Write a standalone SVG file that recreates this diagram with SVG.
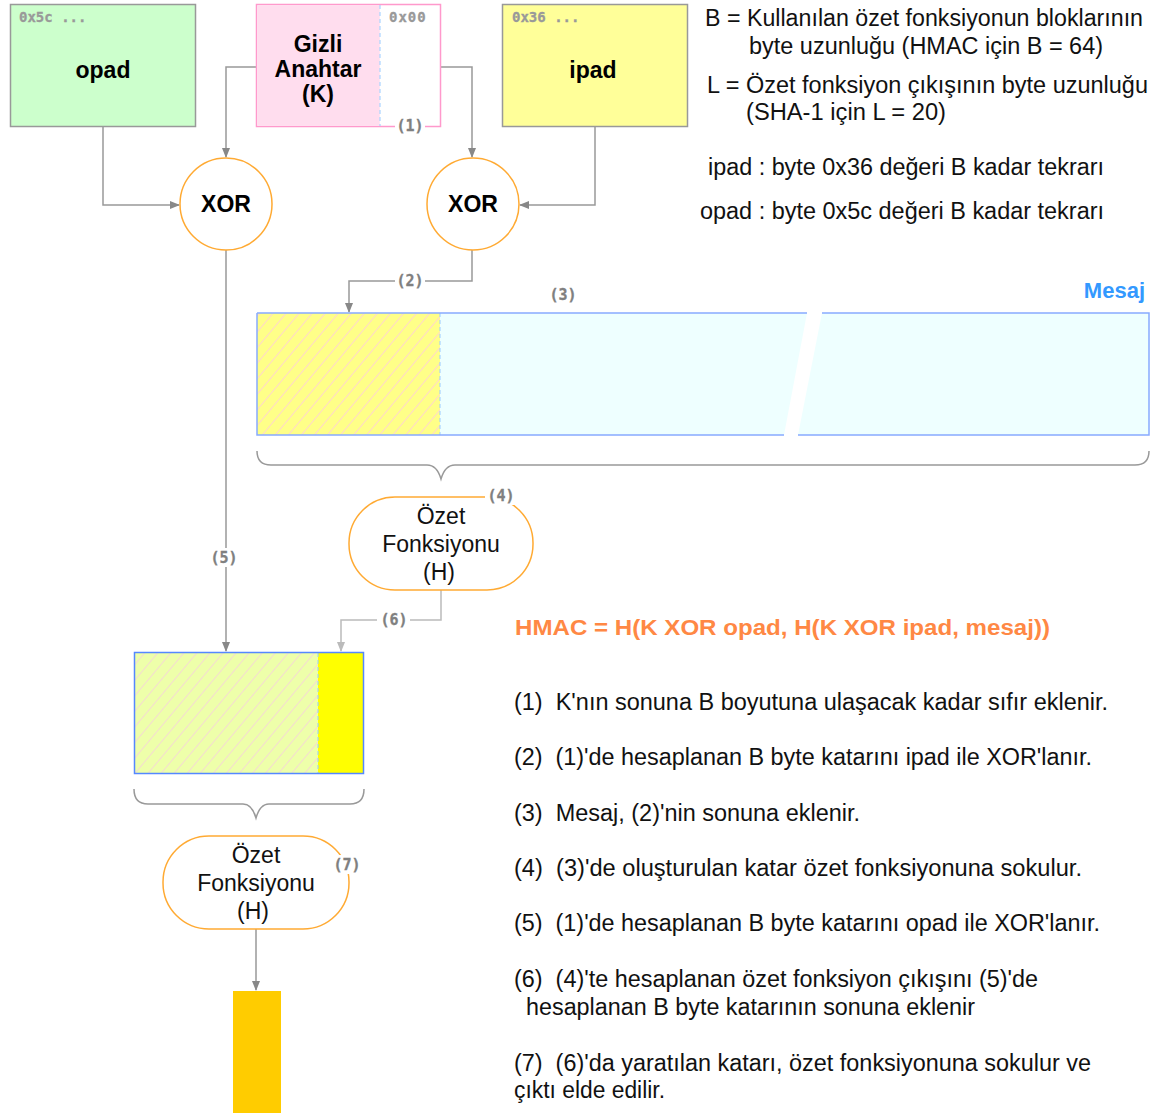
<svg xmlns="http://www.w3.org/2000/svg" width="1160" height="1118" viewBox="0 0 1160 1118">
<style>
.bold{font-family:"Liberation Sans",Arial,sans-serif;font-weight:bold;font-size:23px;fill:#000;text-anchor:middle}
.norm{font-family:"Liberation Sans",Arial,sans-serif;font-size:23px;fill:#111;text-anchor:middle}
.txt{font-family:"Liberation Sans",Arial,sans-serif;font-size:23px;fill:#111;white-space:pre}
.lbl{font-family:"DejaVu Sans Mono","Liberation Mono",monospace;font-weight:bold;font-size:15px;fill:#808080;text-anchor:middle;stroke:#808080;stroke-width:0.3}
.hex{font-family:"DejaVu Sans Mono","Liberation Mono",monospace;font-weight:bold;font-size:14px;fill:#999;stroke:#999;stroke-width:0.3}
.conn{fill:none;stroke:#999;stroke-width:1.5}
.conn2{fill:none;stroke:#bbb;stroke-width:1.5}
.orange{fill:#fff;stroke:#ffaa33;stroke-width:1.5}
.brace{fill:none;stroke:#999;stroke-width:1.5}
</style>
<defs>
<marker id="arr" markerWidth="10" markerHeight="10" refX="9" refY="5" orient="auto" markerUnits="userSpaceOnUse">
<path d="M0,1 L10,5 L0,9 Z" fill="#888"/>
</marker>
<marker id="arr2" markerWidth="10" markerHeight="10" refX="9" refY="5" orient="auto" markerUnits="userSpaceOnUse">
<path d="M0,1 L10,5 L0,9 Z" fill="#bbb"/>
</marker>
<pattern id="hatch1" width="10" height="10" patternUnits="userSpaceOnUse" patternTransform="rotate(40)">
<rect width="10" height="10" fill="#ffff88"/>
<line x1="0" y1="0" x2="0" y2="10" stroke="#ffd8c8" stroke-width="2"/>
</pattern>
<pattern id="hatch2" width="10" height="10" patternUnits="userSpaceOnUse" patternTransform="rotate(40)">
<rect width="10" height="10" fill="#eeffaa"/>
<line x1="0" y1="0" x2="0" y2="10" stroke="#f4dcd0" stroke-width="2"/>
</pattern>
</defs>

<g id="connectors">
<path class="conn" d="M103,127 V205 H179" marker-end="url(#arr)"/>
<path class="conn" d="M256,67 H226 V157" marker-end="url(#arr)"/>
<path class="conn" d="M441,67 H472 V157" marker-end="url(#arr)"/>
<path class="conn" d="M595,127 V205 H520" marker-end="url(#arr)"/>
<path class="conn" d="M226,250 V651" marker-end="url(#arr)"/>
<path class="conn" d="M472,250 V281 H349 V312" marker-end="url(#arr)"/>
<path class="conn2" d="M441,590 V620 H341 V651" marker-end="url(#arr2)"/>
<path class="conn" d="M256,929 V990" marker-end="url(#arr)"/>
<rect x="395" y="271" width="30" height="19" fill="#fff"/>
<text class="lbl" x="410" y="286">(2)</text>
<rect x="209" y="548" width="32" height="19" fill="#fff"/>
<text class="lbl" x="224" y="563">(5)</text>
<rect x="377" y="610" width="33" height="19" fill="#fff"/>
<text class="lbl" x="394" y="625">(6)</text>
</g>

<g id="opad">
<rect x="10.5" y="4.5" width="185" height="122" fill="#ccffcc" stroke="#999" stroke-width="1.5"/>
<text class="hex" x="19" y="22">0x5c ...</text>
<text class="bold" x="103" y="78">opad</text>
</g>

<g id="gizli">
<rect x="256.5" y="4.5" width="184" height="122" fill="#fff" stroke="#ff99cc" stroke-width="1.5"/>
<rect x="257.25" y="5.25" width="122.5" height="120.5" fill="#ffddee"/>
<line x1="380" y1="5" x2="380" y2="126" stroke="#99ccff" stroke-width="1" stroke-dasharray="4,3"/>
<text class="hex" x="389" y="22" letter-spacing="1">0x00</text>
<text class="bold" x="318" y="52">Gizli</text>
<text class="bold" x="318" y="77">Anahtar</text>
<text class="bold" x="318" y="102">(K)</text>
<rect x="395" y="117" width="30" height="17" fill="#fff"/>
<text class="lbl" x="410" y="131">(1)</text>
</g>

<g id="ipad">
<rect x="502.5" y="4.5" width="185" height="122" fill="#ffff99" stroke="#999" stroke-width="1.5"/>
<text class="hex" x="512" y="22">0x36 ...</text>
<text class="bold" x="593" y="78">ipad</text>
</g>

<g id="xor1">
<circle cx="226" cy="204" r="46" class="orange"/>
<text class="bold" x="226" y="212">XOR</text>
</g>

<g id="xor2">
<circle cx="473" cy="204" r="46" class="orange"/>
<text class="bold" x="473" y="212">XOR</text>
</g>

<g id="mesaj">
<polygon points="257,313 807,313 784,435 257,435" fill="#eeffff"/>
<polygon points="822,313 1149,313 1149,435 798,435" fill="#eeffff"/>
<rect x="257" y="313" width="183" height="122" fill="url(#hatch1)"/>
<line x1="440" y1="313" x2="440" y2="435" stroke="#99ccff" stroke-width="1" stroke-dasharray="4,3"/>
<path d="M257,313 H807 M822,313 H1149 V435 H798 M784,435 H257 V313" fill="none" stroke="#88aaff" stroke-width="1.5"/>
<text class="lbl" x="563" y="300">(3)</text>
<text x="1145" y="298" font-family="Liberation Sans,Arial,sans-serif" font-weight="bold" font-size="22" fill="#3399ff" text-anchor="end">Mesaj</text>
<path class="brace" d="M257,451 Q257,465 271,465 L427,465 Q437,465 441,479 Q445,465 455,465 L1135,465 Q1149,465 1149,451"/>
</g>

<g id="ozet1">
<rect x="349" y="497" width="184" height="93" rx="46" ry="46" class="orange"/>
<text class="norm" x="441" y="524">Özet</text>
<text class="norm" x="441" y="552">Fonksiyonu</text>
<text class="norm" x="439" y="580">(H)</text>
<rect x="485" y="486" width="34" height="19" fill="#fff"/>
<text class="lbl" x="501" y="501">(4)</text>
</g>

<g id="blok2">
<rect x="134.5" y="652.5" width="184" height="121" fill="url(#hatch2)"/>
<rect x="318" y="652.5" width="46" height="121" fill="#ffff00"/>
<line x1="318" y1="653" x2="318" y2="773" stroke="#99ccff" stroke-width="1" stroke-dasharray="4,3"/>
<rect x="134.5" y="652.5" width="229" height="121" fill="none" stroke="#5588ff" stroke-width="1.5"/>
<path class="brace" d="M134,789 Q134,804 148,804 L243,804 Q252,804 256,818 Q260,804 269,804 L350,804 Q364,804 364,789"/>
</g>

<g id="ozet2">
<rect x="163" y="836" width="186" height="93" rx="46" ry="46" class="orange"/>
<text class="norm" x="256" y="863">Özet</text>
<text class="norm" x="256" y="891">Fonksiyonu</text>
<text class="norm" x="253" y="919">(H)</text>
<rect x="332" y="855" width="30" height="19" fill="#fff"/>
<text class="lbl" x="347" y="870">(7)</text>
</g>

<g id="cikti">
<rect x="233" y="991" width="48" height="122" fill="#ffcc00"/>
</g>

<g id="aciklama">
<text class="txt" x="705" y="26" textLength="438" lengthAdjust="spacingAndGlyphs">B = Kullanılan özet fonksiyonun bloklarının</text>
<text class="txt" x="749" y="54" textLength="354" lengthAdjust="spacingAndGlyphs">byte uzunluğu (HMAC için B = 64)</text>
<text class="txt" x="707" y="93" textLength="441" lengthAdjust="spacingAndGlyphs">L = Özet fonksiyon çıkışının byte uzunluğu</text>
<text class="txt" x="746" y="120" textLength="200" lengthAdjust="spacingAndGlyphs">(SHA-1 için L = 20)</text>
<text class="txt" x="708" y="175" textLength="396" lengthAdjust="spacingAndGlyphs">ipad : byte 0x36 değeri B kadar tekrarı</text>
<text class="txt" x="700" y="219" textLength="404" lengthAdjust="spacingAndGlyphs">opad : byte 0x5c değeri B kadar tekrarı</text>
<text x="515" y="635" font-family="Liberation Sans,Arial,sans-serif" font-weight="bold" font-size="22" fill="#ff8844" textLength="535" lengthAdjust="spacingAndGlyphs">HMAC = H(K XOR opad, H(K XOR ipad, mesaj))</text>
<text class="txt" x="514" y="710" textLength="594" lengthAdjust="spacingAndGlyphs">(1)  K'nın sonuna B boyutuna ulaşacak kadar sıfır eklenir.</text>
<text class="txt" x="514" y="765" textLength="578" lengthAdjust="spacingAndGlyphs">(2)  (1)'de hesaplanan B byte katarını ipad ile XOR'lanır.</text>
<text class="txt" x="514" y="821" textLength="346" lengthAdjust="spacingAndGlyphs">(3)  Mesaj, (2)'nin sonuna eklenir.</text>
<text class="txt" x="514" y="876" textLength="568" lengthAdjust="spacingAndGlyphs">(4)  (3)'de oluşturulan katar özet fonksiyonuna sokulur.</text>
<text class="txt" x="514" y="931" textLength="586" lengthAdjust="spacingAndGlyphs">(5)  (1)'de hesaplanan B byte katarını opad ile XOR'lanır.</text>
<text class="txt" x="514" y="987" textLength="524" lengthAdjust="spacingAndGlyphs">(6)  (4)'te hesaplanan özet fonksiyon çıkışını (5)'de</text>
<text class="txt" x="526" y="1015" textLength="449" lengthAdjust="spacingAndGlyphs">hesaplanan B byte katarının sonuna eklenir</text>
<text class="txt" x="514" y="1071" textLength="577" lengthAdjust="spacingAndGlyphs">(7)  (6)'da yaratılan katarı, özet fonksiyonuna sokulur ve</text>
<text class="txt" x="514" y="1098" textLength="151" lengthAdjust="spacingAndGlyphs">çıktı elde edilir.</text>
</g>
</svg>
